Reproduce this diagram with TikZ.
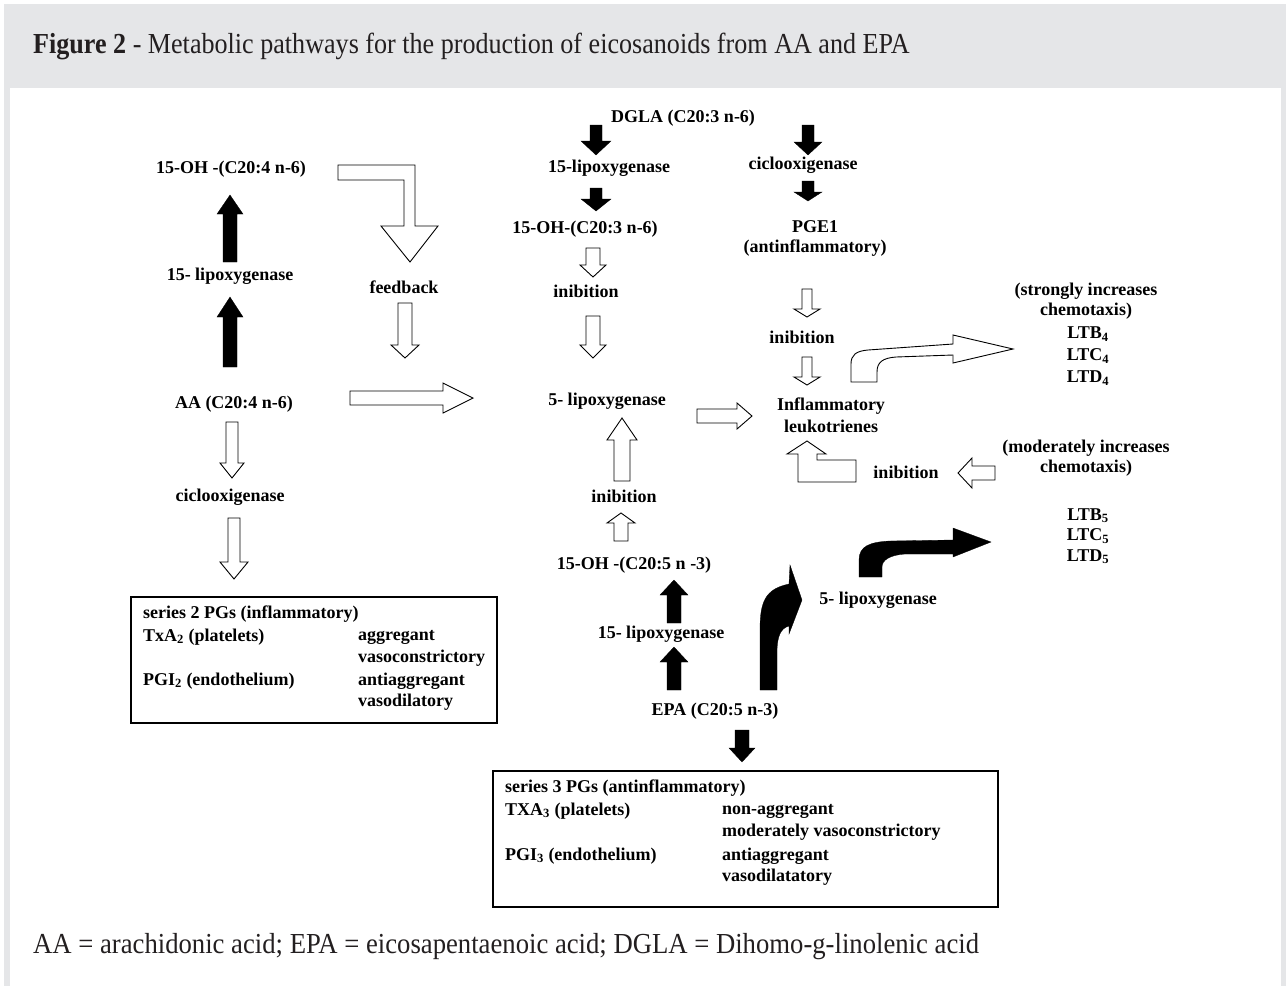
\documentclass[tikz,border=0pt]{standalone}
\usepackage{fontspec}
\setmainfont{Liberation Serif}
\newfontfamily\capfont[FakeStretch=0.9]{Liberation Serif}
\newfontfamily\footfont[FakeStretch=0.92]{Liberation Serif}
\definecolor{hdrgrey}{HTML}{E5E6E8}
\definecolor{captxt}{HTML}{231F20}
\tikzset{
  lbl/.style={font=\bfseries\fontsize{18}{20}\selectfont, inner sep=0pt, align=center, text=black},
  lft/.style={lbl, anchor=west, align=left},
  blk/.style={fill=black, draw=black, line width=0.3pt, line join=miter},
  wht/.style={draw=black, fill=white, line width=0.9pt, line join=miter},
  pgbox/.style={draw=black, line width=1.1pt},
  captext/.style={font=\capfont\fontsize{29}{31}\selectfont, text=captxt, inner sep=0pt, anchor=base west},
  foottext/.style={captext, font=\footfont\fontsize{29}{31}\selectfont}
}
% vertical block arrow: style, x, y tail, y head base, y tip, half shaft, half head
\newcommand{\vblock}[7]{\path[#1] (#2-#6,#3) -- (#2-#6,#4) -- (#2-#7,#4) -- (#2,#5) -- (#2+#7,#4) -- (#2+#6,#4) -- (#2+#6,#3) -- cycle;}
% horizontal block arrow: style, y, x tail, x head base, x tip, half shaft, half head
\newcommand{\hblock}[7]{\path[#1] (#3,#2-#6) -- (#4,#2-#6) -- (#4,#2-#7) -- (#5,#2) -- (#4,#2+#7) -- (#4,#2+#6) -- (#3,#2+#6) -- cycle;}
\begin{document}
\begin{tikzpicture}[x=1pt,y=-1pt]
\useasboundingbox (0,0) rectangle (1286,986);
\fill[white] (0,0) rectangle (1286,986);
% frame
\fill[hdrgrey] (4,4) rectangle (1286,88);
\fill[hdrgrey] (4,88) rectangle (10,986);
\fill[hdrgrey] (1281,88) rectangle (1286,986);
\node[captext] (title) at (33,53) {\textbf{Figure 2} - Metabolic pathways for the production of eicosanoids from AA and EPA};
\node[foottext] (foot) at (33,953) {AA = arachidonic acid; EPA = eicosapentaenoic acid; DGLA = Dihomo-g-linolenic acid};

% ---- text nodes ----
\node[lbl] (dgla) at (683,118) {DGLA (C20:3 n-6)};
\node[lbl] (lox15a) at (609,168) {15-lipoxygenase};
\node[lbl] (cox1) at (803,165) {ciclooxigenase};
\node[lbl] (oh203) at (585,229) {15-OH-(C20:3 n-6)};
\node[lbl] (pge1) at (815,238) {PGE1\\(antinflammatory)};
\node[lbl] (inib1) at (586,291) {inibition};
\node[lbl] (inib2) at (802,337) {inibition};
\node[lbl] (lox5) at (607,401) {5- lipoxygenase};
\node[lbl, font=\bfseries\fontsize{18}{22}\selectfont] (infl) at (831,415) {Inflammatory\\leukotrienes};
\node[lbl] (inib3) at (906,472) {inibition};
\node[lbl] (strong) at (1086,301) {(strongly increases\\chemotaxis)};
\node[lbl, font=\bfseries\fontsize{18}{22}\selectfont] (lt4) at (1088,356) {LTB\textsubscript{4}\\LTC\textsubscript{4}\\LTD\textsubscript{4}};
\node[lbl] (moder) at (1086,458) {(moderately increases\\chemotaxis)};
\node[lbl, font=\bfseries\fontsize{18}{20.5}\selectfont] (lt5) at (1088,536) {LTB\textsubscript{5}\\LTC\textsubscript{5}\\LTD\textsubscript{5}};
\node[lbl] (oh204) at (231,169) {15-OH -(C20:4 n-6)};
\node[lbl] (lox15b) at (230,276) {15- lipoxygenase};
\node[lbl] (feed) at (404,287) {feedback};
\node[lbl] (aa) at (234,404) {AA (C20:4 n-6)};
\node[lbl] (cox2) at (230,497) {ciclooxigenase};
\node[lbl] (inib4) at (624,496) {inibition};
\node[lbl] (oh205) at (634,565) {15-OH -(C20:5 n -3)};
\node[lbl] (lox15c) at (661,634) {15- lipoxygenase};
\node[lbl] (lox5b) at (878,600) {5- lipoxygenase};
\node[lbl] (epa) at (715,711) {EPA (C20:5 n-3)};

% ---- boxes ----
\draw[pgbox] (131,597) rectangle (497,723);
\node[lft] (s2a) at (143,614) {series 2 PGs (inflammatory)};
\node[lft] (s2b) at (143,637) {TxA\textsubscript{2} (platelets)};
\node[lft] (s2c) at (358,637) {aggregant};
\node[lft] (s2d) at (358,658) {vasoconstrictory};
\node[lft] (s2e) at (143,681) {PGI\textsubscript{2} (endothelium)};
\node[lft] (s2f) at (358,681) {antiaggregant};
\node[lft] (s2g) at (358,702) {vasodilatory};

\draw[pgbox] (493,771) rectangle (998,907);
\node[lft] (s3a) at (505,788) {series 3 PGs (antinflammatory)};
\node[lft] (s3b) at (505,811) {TXA\textsubscript{3} (platelets)};
\node[lft] (s3c) at (722,811) {non-aggregant};
\node[lft] (s3d) at (722,832) {moderately vasoconstrictory};
\node[lft] (s3e) at (505,856) {PGI\textsubscript{3} (endothelium)};
\node[lft] (s3f) at (722,856) {antiaggregant};
\node[lft] (s3g) at (722,877) {vasodilatatory};

% ---- black block arrows ----
\vblock{blk}{596}{125}{141}{155}{6}{15}
\vblock{blk}{596}{188}{199}{211}{6}{15}
\vblock{blk}{808}{125}{142}{155}{6}{14}
\vblock{blk}{808}{181}{192}{201}{6}{14}
\vblock{blk}{230}{367}{317}{297}{7}{13}
\vblock{blk}{230}{262}{214}{195}{7}{13}
\vblock{blk}{674}{690}{662}{647}{7}{14}
\vblock{blk}{674}{623}{595}{580}{7}{14}
\vblock{blk}{742}{730}{748}{762}{7}{13}
% curved black arrows
\path[blk] (760,690) -- (760,630) .. controls (760,602) and (765,589) .. (789,584) -- (790,565) -- (802,600) -- (789,634) -- (789,626) .. controls (781,628) and (777,636) .. (777,652) -- (777,690) -- cycle;
\path[blk] (859,577) -- (859,560) .. controls (859,546) and (870,542) .. (890,541) -- (953,540) -- (953,528) -- (991,542) -- (953,557) -- (953,554) -- (905,554) .. controls (890,555) and (882,560) .. (882,567) -- (882,577) -- cycle;

% ---- white block arrows ----
\vblock{wht}{593}{248}{265}{277}{7}{13}
\vblock{wht}{593}{316}{345}{358}{7}{13}
\vblock{wht}{807}{289}{309}{317}{5}{13}
\vblock{wht}{807}{357}{377}{385}{5}{13}
\vblock{wht}{622}{481}{440}{418}{8}{15}
\vblock{wht}{621}{541}{523}{513}{7}{14}
\vblock{wht}{405}{303}{345}{358}{7}{14}
\vblock{wht}{232}{422}{463}{478}{6}{12}
\vblock{wht}{234}{518}{562}{579}{6}{14}
\hblock{wht}{398}{350}{443}{473}{7}{15}
\hblock{wht}{416}{697}{737}{752}{7}{13}
\hblock{wht}{473}{995}{972}{958}{7}{15}
% feedback L arrow
\path[wht] (338,165) -- (415,165) -- (415,226) -- (438,226) -- (410,262) -- (381,226) -- (404,226) -- (404,180) -- (338,180) -- cycle;
% lower L arrow
\path[wht] (798,482) -- (798,454) -- (787,454) -- (807,441) -- (826,454) -- (817,454) -- (817,460) -- (856,460) -- (856,482) -- cycle;
% upper curved white arrow
\path[wht] (851,382) -- (851,364) .. controls (851,355) and (856,351) .. (868,350) -- (953,344) -- (953,335) -- (1013,349) -- (953,363) -- (953,355) -- (896,357) .. controls (883,358) and (877,362) .. (877,372) -- (877,382) -- cycle;
\end{tikzpicture}
\end{document}
